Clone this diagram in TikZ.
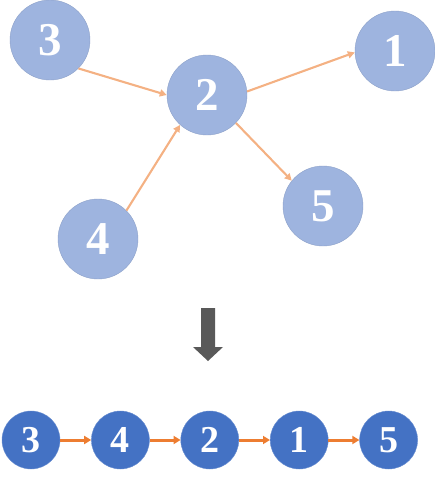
\documentclass[tikz,border=0pt]{standalone}
\usepackage{fontspec}
\setmainfont{Liberation Serif}
\usetikzlibrary{arrows.meta,positioning}
\definecolor{lightnode}{RGB}{158,180,223}
\definecolor{lightedge}{RGB}{244,177,131}
\definecolor{darknode}{RGB}{68,114,196}
\definecolor{darkedge}{RGB}{237,125,49}
\definecolor{bigarrow}{RGB}{89,89,89}

\begin{document}
\begin{tikzpicture}[x=1pt,y=-1pt,
    gnode/.style={circle,fill=lightnode,draw=lightnode!90!black,line width=0.4pt,
      minimum size=80pt,inner sep=0pt,text=white,font=\fontsize{47}{47}\selectfont\bfseries},
    lnode/.style={circle,fill=darknode,draw=darknode!80!white,line width=0.4pt,
      minimum size=58pt,inner sep=0pt,text=white,font=\fontsize{38}{38}\selectfont\bfseries},
    gedge/.style={draw=lightedge,line width=2.1pt,-{Triangle[length=7pt,width=7pt]}},
    ledge/.style={draw=darkedge,line width=3pt,-{Triangle[length=7pt,width=8pt]}}]
    \useasboundingbox (0,0) rectangle (435,480);
    % graph
    \node[gnode] (a3) at (50,40) {3};
    \node[gnode] (a2) at (207,95) {2};
    \node[gnode] (a1) at (395,51) {1};
    \node[gnode] (a5) at (323,206) {5};
    \node[gnode] (a4) at (98,239) {4};
    \draw[gedge] (a3.-45) -- (a2.west);
    \draw[gedge] (a4.45) -- (a2.228);
    \draw[gedge] (a2.5) -- (a1.182);
    \draw[gedge] (a2.-44) -- (a5.141);
    % down arrow
    \fill[bigarrow] (201,308) -- (215,308) -- (215,347) -- (223,347) -- (208,361)
      -- (193,347) -- (201,347) -- cycle;
    % order
    \node[lnode] (b3) at (31,440) {3};
    \node[lnode,right=31pt of b3] (b4) {4};
    \node[lnode,right=31pt of b4] (b2) {2};
    \node[lnode,right=31pt of b2] (b1) {1};
    \node[lnode,right=31pt of b1] (b5) {5};
    \foreach \u/\v in {b3/b4,b4/b2,b2/b1,b1/b5}
      \draw[ledge] (\u) -- (\v);
  \end{tikzpicture}
\end{document}
